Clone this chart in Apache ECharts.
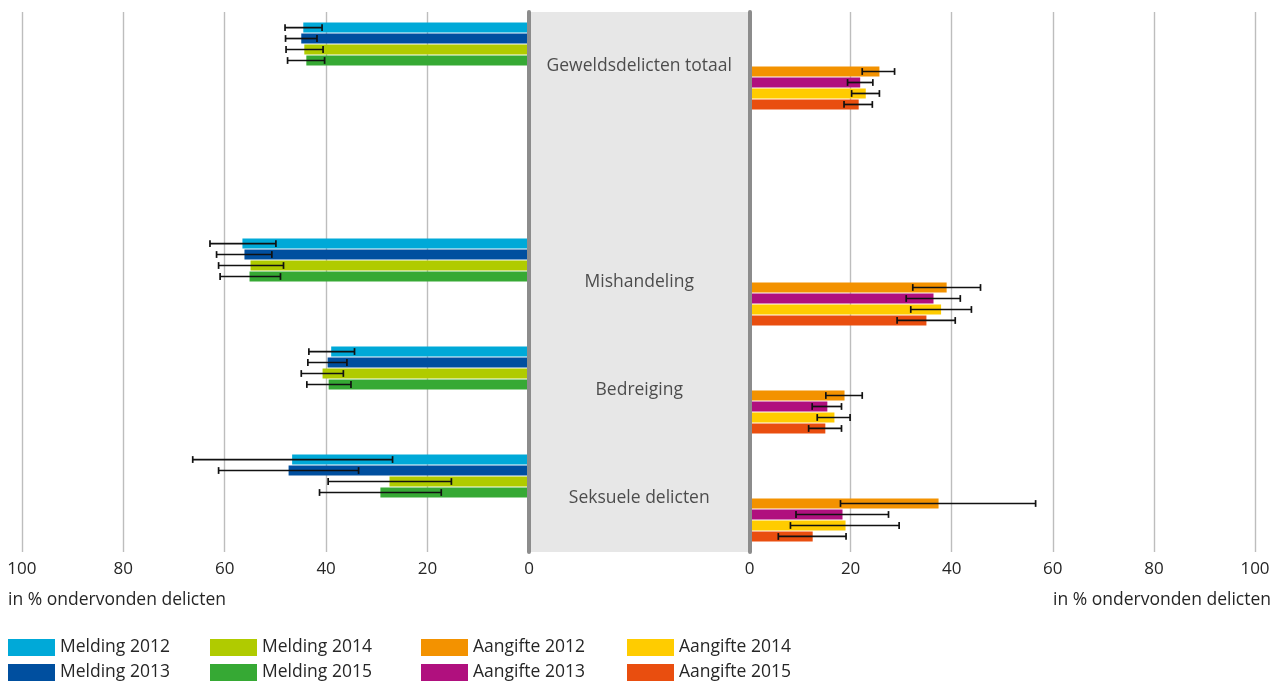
<!DOCTYPE html>
<html><head><meta charset="utf-8">
<script src="https://cdn.jsdelivr.net/npm/echarts@6/dist/echarts.min.js"></script>
<style>html,body{margin:0;padding:0;background:#fff}#c{width:1274px;height:682px}</style>
</head><body><div id="c"></div>
<script>
// ---- data ----
const categories = ['Geweldsdelicten totaal', '', 'Mishandeling', 'Bedreiging', 'Seksuele delicten'];
const axisName = 'in % ondervonden delicten';
const meldingNames = ['Melding 2012', 'Melding 2013', 'Melding 2014', 'Melding 2015'];
const aangifteNames = ['Aangifte 2012', 'Aangifte 2013', 'Aangifte 2014', 'Aangifte 2015'];

const melding2012 = [44.5, null, 56.5, 39.0, 46.7];
const melding2013 = [44.9, null, 56.1, 39.7, 47.4];
const melding2014 = [44.3, null, 54.9, 40.7, 27.5];
const melding2015 = [43.9, null, 55.1, 39.5, 29.3];
const melding2012Err = [[40.8, 48.1], null, [49.9, 62.9], [34.4, 43.4], [26.9, 66.3]];
const melding2013Err = [[41.8, 48.0], null, [50.7, 61.6], [35.9, 43.6], [33.6, 61.2]];
const melding2014Err = [[40.6, 47.9], null, [48.4, 61.2], [36.6, 44.9], [15.3, 39.6]];
const melding2015Err = [[40.3, 47.6], null, [49.0, 60.9], [35.1, 43.8], [17.3, 41.3]];

const aangifte2012 = [25.7, null, 39.0, 18.8, 37.4];
const aangifte2013 = [21.9, null, 36.4, 15.4, 18.4];
const aangifte2014 = [23.0, null, 37.9, 16.8, 19.0];
const aangifte2015 = [21.6, null, 35.0, 15.0, 12.5];
const aangifte2012Err = [[22.3, 28.7], null, [32.3, 45.7], [15.1, 22.3], [18.0, 56.6]];
const aangifte2013Err = [[19.4, 24.4], null, [31.0, 41.7], [12.4, 18.2], [9.2, 27.5]];
const aangifte2014Err = [[20.2, 25.7], null, [31.9, 43.9], [13.4, 19.9], [8.1, 29.6]];
const aangifte2015Err = [[18.7, 24.3], null, [29.2, 40.7], [11.7, 18.2], [5.7, 19.1]];

// ---- styling ----
const meldingColors = ['#00a9d8', '#004f9f', '#b0cb00', '#36a934'];
const aangifteColors = ['#f39200', '#b0107e', '#ffcc00', '#e94e0f'];
const FONT = 'Open Sans';
const TXT = '#262626';
const CAT_GAP = 0.195, BAR_GAP = 0.1, N = 8;

const meldingVals = [melding2012, melding2013, melding2014, melding2015];
const meldingErrs = [melding2012Err, melding2013Err, melding2014Err, melding2015Err];
const aangifteVals = [aangifte2012, aangifte2013, aangifte2014, aangifte2015];
const aangifteErrs = [aangifte2012Err, aangifte2013Err, aangifte2014Err, aangifte2015Err];

const chart = echarts.init(document.getElementById('c'), null, {renderer: 'canvas'});

function errRender(params, api) {
  const low = api.value(0), high = api.value(1), cat = api.value(2), slot = api.value(3);
  const p1 = api.coord([low, cat]);
  const p2 = api.coord([high, cat]);
  const band = api.size([0, 1])[1];
  const total = band - band * CAT_GAP;
  const w = total / (N + (N - 1) * BAR_GAP);
  const yc = p1[1] - total / 2 + slot * w * (1 + BAR_GAP) + w / 2;
  const h = 3.4;
  const st = {stroke: '#111', lineWidth: 1.7};
  return {type: 'group', children: [
    {type: 'line', shape: {x1: p1[0], y1: yc, x2: p2[0], y2: yc}, style: st},
    {type: 'line', shape: {x1: p1[0], y1: yc - h, x2: p1[0], y2: yc + h}, style: st},
    {type: 'line', shape: {x1: p2[0], y1: yc - h, x2: p2[0], y2: yc + h}, style: st}
  ]};
}

function buildErr(errs, slotStart) {
  const out = [];
  errs.forEach((arr, s) => arr.forEach((e, i) => { if (e) out.push([e[0], e[1], i, slotStart + s]); }));
  return out;
}

const emptyData = categories.map(() => null);
const series = [];
// left grid: 4 melding + 4 empty slots
meldingNames.forEach((n, i) => series.push({
  type: 'bar', name: n, xAxisIndex: 0, yAxisIndex: 0, data: meldingVals[i],
  itemStyle: {color: meldingColors[i]}, barCategoryGap: (CAT_GAP * 100) + '%', barGap: (BAR_GAP * 100) + '%',
  silent: true, animation: false
}));
for (let i = 0; i < 4; i++) series.push({type: 'bar', name: '_l' + i, xAxisIndex: 0, yAxisIndex: 0, data: emptyData, silent: true, animation: false});
// right grid: 4 empty slots + 4 aangifte
for (let i = 0; i < 4; i++) series.push({type: 'bar', name: '_r' + i, xAxisIndex: 1, yAxisIndex: 1, data: emptyData, silent: true, animation: false,
  barCategoryGap: (CAT_GAP * 100) + '%', barGap: (BAR_GAP * 100) + '%'});
aangifteNames.forEach((n, i) => series.push({
  type: 'bar', name: n, xAxisIndex: 1, yAxisIndex: 1, data: aangifteVals[i],
  itemStyle: {color: aangifteColors[i]}, silent: true, animation: false
}));
series.push({type: 'custom', xAxisIndex: 0, yAxisIndex: 0, renderItem: errRender,
  data: buildErr(meldingErrs, 0), encode: {x: [0, 1], y: 2}, silent: true, animation: false, z: 5});
series.push({type: 'custom', xAxisIndex: 1, yAxisIndex: 1, renderItem: errRender,
  data: buildErr(aangifteErrs, 4), encode: {x: [0, 1], y: 2}, silent: true, animation: false, z: 5});
// category labels in middle panel
series.push({type: 'scatter', xAxisIndex: 2, yAxisIndex: 2, symbolSize: 0, silent: true, animation: false,
  data: categories.map((c, i) => c ? {name: c, value: [0.5, i]} : null).filter(Boolean),
  label: {show: true, position: 'inside', formatter: '{b}', color: TXT, fontFamily: FONT, fontSize: 17.5}});

const valueAxis = (grid, inverse) => ({
  type: 'value', gridIndex: grid, min: 0, max: 100, interval: 20, inverse: inverse,
  axisLine: {show: false}, axisTick: {show: false},
  axisLabel: {color: TXT, fontFamily: FONT, fontSize: 17, margin: 9},
  splitLine: {show: true, lineStyle: {color: '#bdbdbd', width: 1.4}}
});
const catAxis = (grid, pos, showLine) => ({
  type: 'category', gridIndex: grid, data: categories, inverse: true, position: pos, z: 4,
  axisLine: {show: showLine, onZero: false, lineStyle: {color: '#8c8c8c', width: 4}},
  axisTick: {show: false}, axisLabel: {show: false}, splitLine: {show: false}
});

const legendBase = {orient: 'vertical', top: 638.5, height: 60, itemWidth: 47, itemHeight: 17, itemGap: 7, icon: 'rect',
  padding: 0, textStyle: {color: TXT, fontFamily: FONT, fontSize: 17.5, lineHeight: 17}, selectedMode: false};

chart.setOption({
  animation: false,
  textStyle: {fontFamily: FONT},
  title: [
    {text: axisName, left: 8, top: 591, padding: 0, textStyle: {color: TXT, fontFamily: FONT, fontSize: 17.5, fontWeight: 'normal'}},
    {text: axisName, right: 3, top: 591, padding: 0, textStyle: {color: TXT, fontFamily: FONT, fontSize: 17.5, fontWeight: 'normal'}}
  ],
  legend: [
    Object.assign({}, legendBase, {left: 8, data: [meldingNames[0], meldingNames[1]]}),
    Object.assign({}, legendBase, {left: 210, data: [meldingNames[2], meldingNames[3]]}),
    Object.assign({}, legendBase, {left: 421, data: [aangifteNames[0], aangifteNames[1]]}),
    Object.assign({}, legendBase, {left: 627, data: [aangifteNames[2], aangifteNames[3]]})
  ],
  grid: [
    {left: 21.8, top: 12, width: 507.2, height: 540},
    {left: 749.5, top: 12, width: 505.5, height: 540},
    {left: 529, top: 12, width: 220.5, height: 540, show: true, backgroundColor: '#e7e7e7', borderWidth: 0}
  ],
  xAxis: [valueAxis(0, true), valueAxis(1, false),
    {type: 'value', gridIndex: 2, min: 0, max: 1, show: false}],
  yAxis: [catAxis(0, 'right', true), catAxis(1, 'left', true), Object.assign(catAxis(2, 'left', false), {show: false})],
  series: series
});
</script></body></html>
